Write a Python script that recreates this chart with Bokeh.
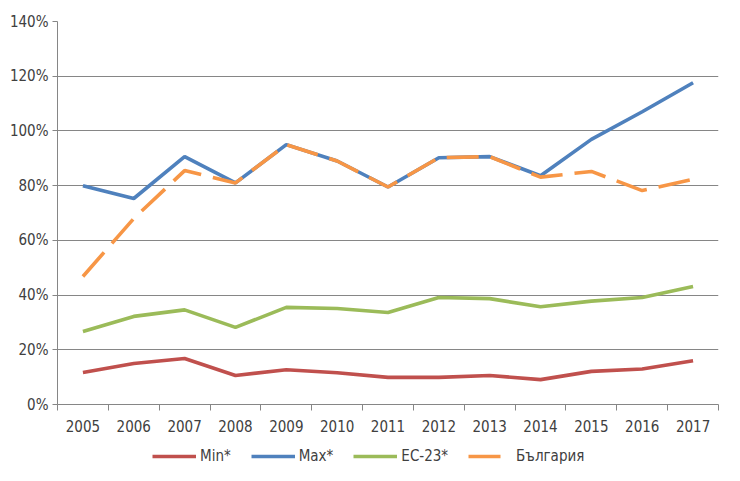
from bokeh.plotting import figure
from bokeh.layouts import column
from bokeh.models import FixedTicker, PrintfTickFormatter, Legend, LegendItem, Range1d
from bokeh.embed import file_html
from bokeh.resources import INLINE

years = [2005, 2006, 2007, 2008, 2009, 2010, 2011, 2012, 2013, 2014, 2015, 2016, 2017]
min_vals = [11.7, 15.0, 16.8, 10.6, 12.7, 11.6, 9.9, 9.9, 10.6, 9.1, 12.1, 13.0, 16.0]
max_vals = [80.0, 75.3, 90.6, 81.0, 95.0, 89.0, 79.5, 90.2, 90.6, 83.6, 96.9, 107.0, 117.6]
ec_vals = [26.7, 32.2, 34.6, 28.2, 35.5, 35.1, 33.6, 39.1, 38.7, 35.7, 37.8, 39.1, 43.1]
bg_vals = [46.8, 68.0, 85.5, 81.0, 95.0, 89.0, 79.5, 90.2, 90.6, 83.1, 85.2, 78.2, 82.3]
y_ticks = [0, 20, 40, 60, 80, 100, 120, 140]
names = ["Min*", "Max*", "EC-23*", "България"]
colors = ["#C0504D", "#4F81BD", "#9BBB59", "#F79646"]
dashes = ["solid", "solid", "solid", "32 12"]
series = [min_vals, max_vals, ec_vals, bg_vals]

FONT = "'Liberation Sans Narrow', 'DejaVu Sans Condensed', sans-serif"
GRAY = "#868686"
TXT = "#404040"

p = figure(width=724, height=438, output_backend="svg", toolbar_location=None,
           x_range=Range1d(years[0] - 0.5, years[-1] + 0.5),
           y_range=Range1d(y_ticks[0], y_ticks[-1]),
           min_border_left=57, min_border_right=6, min_border_top=21, min_border_bottom=34)
p.outline_line_color = None
p.background_fill_color = "white"
p.border_fill_color = "white"

bounds = [y - 0.5 for y in years] + [years[-1] + 0.5]
p.xaxis.ticker = FixedTicker(ticks=years, minor_ticks=bounds)
p.xaxis.major_tick_line_color = None
p.xaxis.minor_tick_line_color = GRAY
p.xaxis.minor_tick_in = 0
p.xaxis.minor_tick_out = 6
p.xaxis.axis_line_color = GRAY
p.xaxis.major_label_standoff = 9
p.xgrid.grid_line_color = None

p.yaxis.ticker = FixedTicker(ticks=y_ticks)
p.yaxis.formatter = PrintfTickFormatter(format="%d%%")
p.yaxis.minor_tick_line_color = None
p.yaxis.major_tick_line_color = GRAY
p.yaxis.major_tick_in = 0
p.yaxis.major_tick_out = 5
p.yaxis.axis_line_color = GRAY
p.yaxis.major_label_standoff = 4
p.ygrid.grid_line_color = GRAY
p.ygrid.grid_line_width = 1.2

for ax in (p.xaxis, p.yaxis):
    ax.major_label_text_font = FONT
    ax.major_label_text_font_size = "15px"
    ax.major_label_text_color = TXT

for vals, c, d in zip(series, colors, dashes):
    p.line(years, vals, line_color=c, line_width=3.6, line_dash=d)

# legend strip: same series drawn outside its visible range, only the legend shows
lg = figure(width=724, height=27, output_backend="svg", toolbar_location=None,
            x_axis_type=None, y_axis_type=None,
            x_range=Range1d(years[0], years[-1]), y_range=Range1d(1000, 1001),
            min_border_left=0, min_border_right=0, min_border_top=0, min_border_bottom=0)
lg.outline_line_color = None
lg.xgrid.grid_line_color = None
lg.ygrid.grid_line_color = None
items = []
for vals, c, d, n in zip(series, colors, dashes, names):
    r = lg.line(years, vals, line_color=c, line_width=3.6, line_dash=d)
    items.append(LegendItem(label=n, renderers=[r]))

legend = Legend(items=items, orientation="horizontal", location=(95, 0),
                glyph_width=44, glyph_height=16, label_standoff=4, spacing=20,
                label_text_font=FONT, label_text_font_size="15px", label_text_color=TXT,
                border_line_color=None, background_fill_alpha=0, padding=0, margin=0)
lg.add_layout(legend, "center")

layout = column(p, lg, spacing=0)
open("out.html", "w").write(file_html(layout, INLINE))
